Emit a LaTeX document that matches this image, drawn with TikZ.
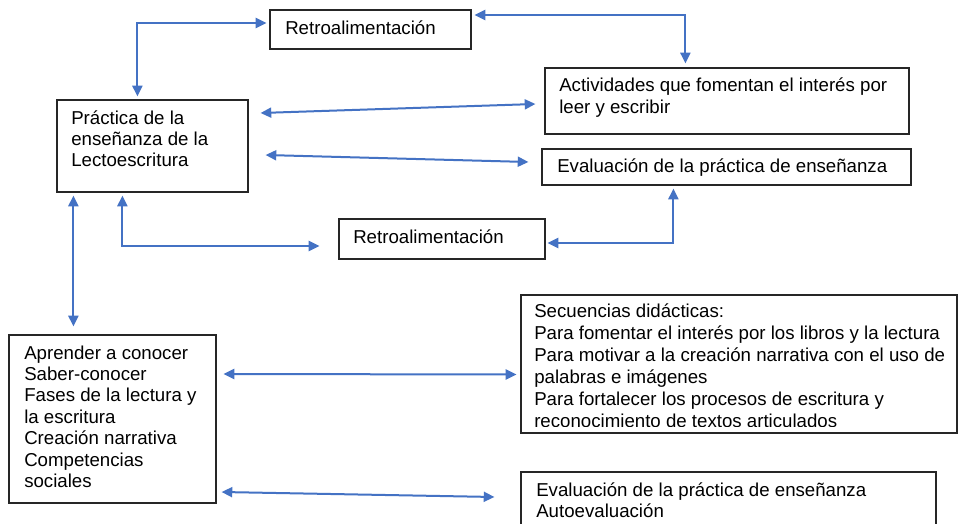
\documentclass[tikz,border=0pt]{standalone}
\usepackage{fontspec}
\setmainfont{Liberation Sans}
\usetikzlibrary{arrows.meta,calc,fit}
\definecolor{arrblue}{RGB}{68,114,196}
\newcommand{\vlines}[2]{\vtop{\baselineskip=#1\lineskiplimit=-10pt #2}}
\tikzset{
  box/.style={draw=black!85, line width=0.9pt, inner sep=0pt, fill=none},
  txt/.style={inner sep=0pt, anchor=base west, font=\fontsize{14pt}{16pt}\selectfont},
  arr/.style={draw=arrblue, line width=1.5pt, {Triangle[length=8pt,width=7.5pt]}-{Triangle[length=8pt,width=7.5pt]}}
}
\begin{document}
\begin{tikzpicture}[x=0.75pt,y=-0.75pt]
\clip (0,0) rectangle (958,524);
\fill[white] (0,0) rectangle (958,524);
% boxes
\node[box, fit={(270,10) (471,49)}] (r1) {};
\node[box, fit={(545,68) (909,134)}] (act) {};
\node[box, fit={(57,100) (248,192)}] (prac) {};
\node[box, fit={(542,149) (911,185)}] (ev1) {};
\node[box, fit={(339,219) (545,259)}] (r2) {};
\node[box, fit={(521,295) (957,433)}] (sec) {};
\node[box, fit={(9,335) (216,503)}] (apr) {};
\node[box, fit={(521,472) (936,540)}] (ev2) {};
% texts
\node[txt] (t1) at (285,35) {Retroalimentación};
\node[txt] (t2) at (71,125) {\vlines{15.75pt}{\hbox{Práctica de la}\hbox{enseñanza de la}\hbox{Lectoescritura}}};
\node[txt] (t3) at (559,92) {\vlines{16.5pt}{\hbox{Actividades que fomentan el interés por}\hbox{leer y escribir}}};
\node[txt] (t4) at (557,173) {Evaluación de la práctica de enseñanza};
\node[txt] (t5) at (353,244) {Retroalimentación};
\begin{scope}
\clip (522,296) rectangle (956,426);
\node[txt] (t6) at (534,318) {\vlines{16.5pt}{\hbox{Secuencias didácticas:}\hbox{Para fomentar el interés por los libros y la lectura}\hbox{Para motivar a la creación narrativa con el uso de}\hbox{palabras e imágenes}\hbox{Para fortalecer los procesos de escritura y}\hbox{reconocimiento de textos articulados}}};
\end{scope}
\node[txt] (t7) at (24,359) {\vlines{16.1pt}{\hbox{Aprender a conocer}\hbox{Saber-conocer}\hbox{Fases de la lectura y}\hbox{la escritura}\hbox{Creación narrativa}\hbox{Competencias}\hbox{sociales}}};
\node[txt] (t8) at (536,496) {\vlines{15.75pt}{\hbox{Evaluación de la práctica de enseñanza}\hbox{Autoevaluación}}};
% connectors
\draw[arr] ($(prac.north west)+(81,-3)$) |- ($(r1.west)+(-3,-6.5)$);
\draw[arr] ($(r1.east)+(3,-14.5)$) -| ($(act.north west)+(141,-4)$);
\draw[arr] ($(prac.east)+(12,-33)$) -- ($(act.west)+(-9,3)$);
\draw[arr] ($(prac.east)+(17,9)$) -- ($(ev1.west)+(-13,-5)$);
\draw[arr] ($(prac.south west)+(66,3)$) |- ($(r2.west)+(-19,7)$);
\draw[arr] ($(r2.east)+(2,4)$) -| ($(ev1.south west)+(132,3)$);
\draw[arr] ($(prac.south west)+(17,3)$) -- ($(apr.north west)+(65,-8)$);
\draw[arr] ($(apr.east)+(7,-45)$) -- ($(sec.west)+(-4,10.5)$);
\draw[arr] ($(apr.east)+(5,73)$) -- ($(ev2.west)+(-26,-9)$);
\end{tikzpicture}
\end{document}
